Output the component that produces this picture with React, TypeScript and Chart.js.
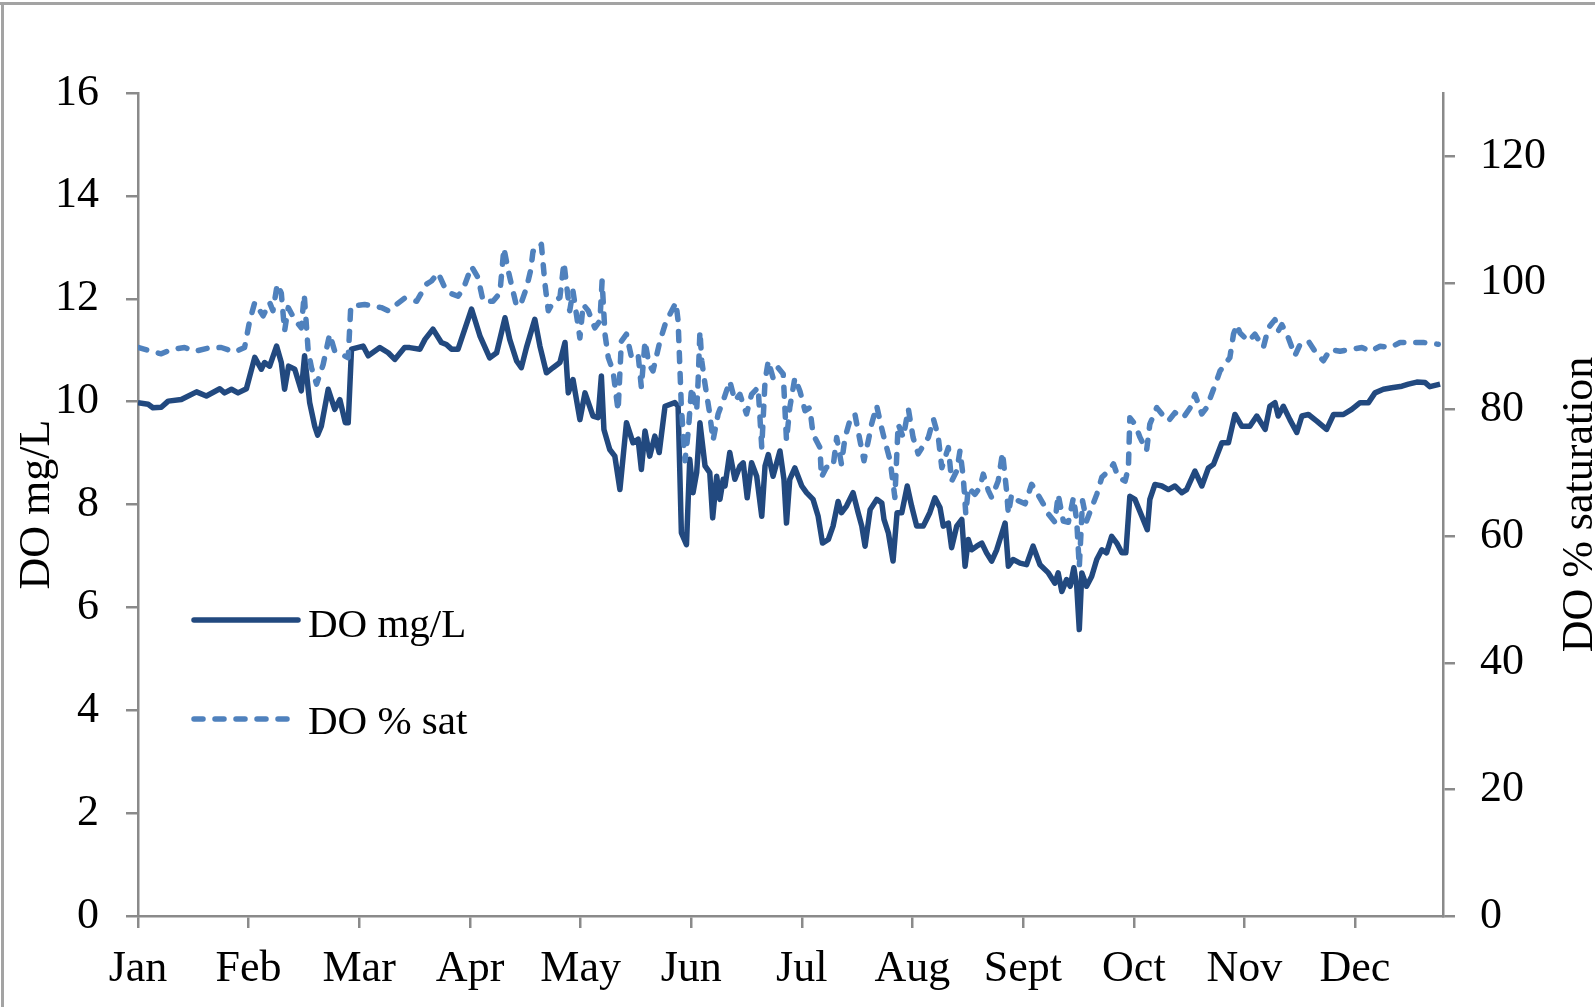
import React, { useEffect, useRef } from "react";
import { Chart, registerables, type ChartConfiguration, type Plugin } from "chart.js";

Chart.register(...registerables);

// ---------------------------------------------------------------
// DATA (day of year -> value)
// ---------------------------------------------------------------

const monthLabels = ["Jan", "Feb", "Mar", "Apr", "May", "Jun", "Jul", "Aug", "Sept", "Oct", "Nov", "Dec"];
const monthStarts = [0, 30.4, 60.8, 91.3, 121.7, 152.1, 182.5, 212.9, 243.3, 273.8, 304.2, 334.6];

const mgDays = [
  0, 2.8, 4.1, 6.4, 8.3, 11.9, 16.1, 18.8, 22.5, 23.8,
  25.7, 27.5, 29.8, 32.1, 33.9, 34.8, 36.2, 38.1, 39.4, 40.3,
  41.4, 43.1, 44.9, 45.8, 47.2, 48.6, 49.4, 50.4, 52.3, 54.1,
  55.5, 57.0, 57.8, 58.7, 61.9, 63.3, 66.5, 68.8, 70.6, 73.3,
  74.7, 77.5, 78.9, 81.1, 83.4, 84.8, 86.2, 88.0, 91.7, 94.0,
  96.7, 98.6, 100.9, 102.2, 104.1, 105.4, 106.8, 109.1, 110.5, 112.3,
  114.1, 116.0, 117.4, 118.3, 119.6, 121.5, 122.9, 125.1, 126.5, 127.4,
  128.1, 129.7, 131.1, 132.5, 134.3, 136.1, 137.5, 138.4, 139.4, 140.7,
  142.1, 143.3, 144.9, 147.6, 148.5, 149.4, 150.8, 151.7, 152.6, 153.6,
  154.5, 155.9, 157.2, 158.0, 159.1, 160.0, 160.9, 161.4, 162.7, 164.1,
  165.5, 166.4, 167.5, 168.7, 170.1, 171.5, 172.4, 173.3, 174.6, 176.5,
  177.6, 178.3, 179.2, 180.6, 182.5, 183.8, 185.6, 187.0, 188.2, 189.8,
  191.1, 192.5, 193.4, 194.8, 196.6, 198.0, 199.0, 199.9, 201.3, 203.1,
  204.5, 205.1, 206.3, 207.6, 208.7, 210.0, 211.5, 212.7, 214.1, 215.9,
  216.8, 217.7, 219.1, 220.5, 221.4, 222.8, 223.7, 225.1, 226.5, 227.4,
  228.3, 229.2, 230.6, 232.0, 233.3, 234.7, 236.1, 238.4, 239.3, 240.6,
  242.5, 244.3, 246.1, 248.0, 250.3, 252.1, 253.0, 254.0, 255.3, 256.3,
  257.3, 258.1, 258.8, 259.5, 260.8, 262.2, 263.6, 265.0, 266.3, 267.7,
  269.1, 270.5, 271.6, 272.7, 274.1, 276.0, 277.5, 278.2, 279.6, 281.5,
  283.3, 285.1, 287.0, 288.3, 290.6, 292.5, 294.3, 295.7, 298.0, 299.8,
  301.6, 303.5, 305.7, 307.6, 309.9, 311.2, 312.6, 313.5, 314.9, 316.7,
  318.6, 320.0, 321.8, 324.1, 326.8, 328.7, 331.4, 333.7, 336.0, 338.3,
  340.1, 342.4, 344.7, 347.5, 349.3, 351.6, 353.9, 355.2, 358.0,
];

const mgValues = [
  9.98, 9.95, 9.88, 9.89, 10.01, 10.04, 10.19, 10.11, 10.25, 10.17,
  10.24, 10.17, 10.25, 10.86, 10.63, 10.76, 10.69, 11.08, 10.76, 10.24,
  10.69, 10.63, 10.21, 10.89, 9.98, 9.52, 9.35, 9.52, 10.24, 9.85,
  10.04, 9.59, 9.59, 11.02, 11.08, 10.89, 11.05, 10.95, 10.82, 11.05,
  11.05, 11.02, 11.21, 11.41, 11.15, 11.11, 11.02, 11.02, 11.8, 11.28,
  10.85, 10.95, 11.63, 11.21, 10.79, 10.66, 11.05, 11.6, 11.08, 10.56,
  10.66, 10.76, 11.15, 10.17, 10.43, 9.65, 10.17, 9.72, 9.69, 10.5,
  9.46, 9.07, 8.94, 8.29, 9.59, 9.2, 9.27, 8.68, 9.43, 8.94,
  9.33, 9.01, 9.91, 9.98, 9.91, 7.45, 7.22, 8.88, 8.23, 8.62,
  9.59, 8.75, 8.62, 7.74, 8.55, 8.1, 8.49, 8.36, 9.01, 8.49,
  8.75, 8.81, 8.13, 8.81, 8.55, 7.77, 8.75, 8.97, 8.55, 9.04,
  8.49, 7.64, 8.49, 8.71, 8.36, 8.23, 8.1, 7.77, 7.25, 7.32,
  7.58, 8.06, 7.84, 7.97, 8.23, 7.84, 7.58, 7.19, 7.9, 8.1,
  8.03, 7.71, 7.45, 6.9, 7.84, 7.84, 8.36, 7.97, 7.58, 7.58,
  7.71, 7.84, 8.13, 7.94, 7.58, 7.64, 7.16, 7.58, 7.71, 6.8,
  7.32, 7.12, 7.19, 7.25, 7.06, 6.9, 7.12, 7.64, 6.8, 6.93,
  6.86, 6.83, 7.19, 6.83, 6.67, 6.47, 6.67, 6.31, 6.54, 6.41,
  6.77, 6.41, 5.57, 6.67, 6.41, 6.6, 6.93, 7.12, 7.06, 7.38,
  7.25, 7.06, 7.06, 8.16, 8.1, 7.77, 7.51, 8.1, 8.39, 8.36,
  8.29, 8.36, 8.23, 8.29, 8.65, 8.36, 8.71, 8.78, 9.2, 9.2,
  9.75, 9.52, 9.52, 9.72, 9.46, 9.91, 9.98, 9.72, 9.91, 9.65,
  9.4, 9.72, 9.75, 9.62, 9.46, 9.75, 9.75, 9.85, 9.98, 9.98,
  10.17, 10.24, 10.27, 10.3, 10.34, 10.38, 10.37, 10.29, 10.34,
];

const satDays = [
  0, 3.7, 6.4, 9.2, 12.8, 15.6, 19.3, 22.9, 26.6, 29.3,
  30.7, 32.1, 34.4, 36.2, 37.1, 38.3, 39.4, 40.3, 41.3, 43.1,
  44.9, 45.7, 46.8, 47.7, 49.1, 50.9, 52.7, 54.1, 55.9, 57.8,
  58.5, 62.3, 66.9, 68.8, 73.3, 76.6, 79.3, 80.7, 82.5, 84.4,
  85.7, 88.0, 89.4, 91.7, 93.5, 94.9, 97.6, 99.5, 100.6, 101.8,
  103.1, 104.1, 105.4, 106.8, 108.0, 108.6, 110.0, 110.9, 111.9, 112.8,
  114.1, 116.0, 117.1, 117.8, 118.7, 119.6, 121.5, 122.4, 123.8, 125.6,
  127.0, 127.6, 128.4, 129.3, 130.6, 132.0, 132.9, 134.3, 135.7, 137.5,
  138.4, 139.4, 140.5, 141.6, 143.5, 144.9, 146.2, 147.9, 148.5, 149.4,
  150.4, 151.3, 152.2, 153.6, 154.0, 154.5, 155.0, 155.9, 157.2, 158.1,
  159.5, 160.9, 162.7, 164.1, 165.5, 167.3, 168.7, 170.5, 171.5, 172.4,
  173.3, 174.6, 176.0, 177.4, 178.3, 179.2, 180.6, 182.0, 183.4, 184.7,
  185.6, 187.5, 187.9, 189.3, 191.1, 192.1, 193.4, 194.4, 195.7, 197.1,
  198.5, 199.6, 200.8, 201.7, 203.1, 204.2, 205.1, 206.8, 208.1, 209.0,
  210.4, 211.8, 213.1, 214.5, 217.3, 218.7, 220.0, 221.0, 222.8, 223.7,
  225.1, 226.0, 226.9, 227.6, 228.3, 230.1, 231.5, 232.4, 233.8, 234.7,
  236.5, 237.7, 238.8, 239.3, 240.2, 242.0, 243.9, 245.7, 247.1, 248.9,
  250.3, 252.1, 253.0, 254.4, 255.8, 257.2, 258.1, 258.8, 259.7, 260.8,
  262.2, 263.6, 265.0, 266.8, 268.2, 269.5, 271.4, 272.3, 272.7, 274.1,
  275.5, 277.3, 278.2, 280.1, 281.5, 283.3, 285.1, 287.4, 289.3, 290.6,
  292.5, 293.8, 295.7, 297.5, 300.2, 301.2, 302.1, 303.0, 305.3, 307.1,
  309.4, 310.8, 312.6, 313.5, 314.5, 316.3, 318.1, 319.5, 321.8, 323.6,
  325.9, 327.8, 330.5, 333.3, 336.5, 338.8, 341.5, 344.3, 347.0, 349.8,
  353.4, 357.5,
];

const satValues = [
  89.8, 89.2, 88.8, 89.5, 89.8, 89.2, 89.7, 89.8, 89.1, 89.8,
  94.0, 96.9, 94.8, 96.9, 95.6, 99.8, 98.4, 92.4, 96.1, 94.2,
  92.9, 98.2, 89.2, 86.6, 84.0, 87.1, 91.9, 89.2, 88.7, 88.2,
  96.3, 96.6, 96.1, 95.6, 97.6, 97.1, 99.8, 100.3, 101.6, 99.2,
  98.4, 97.9, 99.0, 102.6, 100.8, 97.1, 97.1, 98.4, 105.5, 101.9,
  98.7, 96.3, 96.9, 99.2, 102.1, 105.0, 105.0, 106.1, 99.8, 95.6,
  96.9, 97.7, 103.2, 99.8, 95.6, 98.7, 91.3, 96.6, 95.6, 92.9,
  94.0, 100.3, 91.9, 88.2, 86.1, 79.8, 90.8, 91.9, 88.2, 88.7,
  83.5, 90.8, 87.1, 86.1, 90.8, 93.4, 95.0, 96.9, 94.0, 80.3,
  71.9, 76.6, 83.5, 79.8, 84.5, 92.4, 87.7, 84.0, 79.3, 75.1,
  79.3, 81.4, 84.5, 81.4, 82.4, 79.3, 82.4, 83.5, 74.0, 84.5,
  87.7, 85.0, 86.6, 85.6, 75.1, 80.3, 85.0, 82.9, 79.8, 80.3,
  76.1, 74.0, 69.3, 70.9, 70.9, 75.6, 71.4, 75.6, 78.2, 79.3,
  75.1, 71.9, 75.1, 77.7, 80.6, 77.7, 75.6, 71.9, 66.1, 77.7,
  75.6, 80.1, 75.6, 73.0, 75.6, 78.5, 75.8, 70.8, 74.0, 68.7,
  70.3, 73.5, 69.3, 63.5, 67.7, 66.6, 67.7, 69.8, 67.2, 66.1,
  68.7, 73.2, 67.2, 63.5, 66.6, 65.6, 65.1, 68.2, 66.9, 65.1,
  63.5, 62.2, 66.6, 62.4, 62.2, 66.1, 62.4, 55.1, 65.6, 62.4,
  64.5, 66.6, 69.3, 70.3, 71.4, 69.3, 68.7, 70.8, 78.7, 77.7,
  75.6, 73.5, 77.7, 80.3, 79.3, 78.2, 79.5, 78.7, 80.3, 82.4,
  79.3, 80.3, 83.2, 86.1, 88.2, 91.9, 93.4, 92.1, 90.8, 91.9,
  89.8, 92.9, 94.2, 92.4, 93.4, 91.3, 88.5, 90.3, 90.8, 89.2,
  87.7, 89.5, 89.2, 89.5, 89.8, 89.2, 90.0, 89.8, 90.6, 90.6,
  90.6, 90.3,
];

// ---------------------------------------------------------------
// STYLE
// ---------------------------------------------------------------

const FONT = "'Liberation Serif', 'Times New Roman', serif";
const AXIS_COLOR = "#8a8a8a";
const SOLID_COLOR = "#22497f";
const DASH_COLOR = "#4f81bd";
const LINE_W = 5.5;
const DASH = [9, 12];

// axis titles + in-plot legend, drawn straight onto the canvas
const titlesAndLegend: Plugin = {
  id: "titlesAndLegend",
  afterDraw(chart) {
    const ctx = chart.ctx;
    const mid = (chart.chartArea.top + chart.chartArea.bottom) / 2;
    ctx.save();
    ctx.fillStyle = "#000";
    ctx.textAlign = "center";
    ctx.textBaseline = "alphabetic";
    ctx.font = `44px ${FONT}`;

    ctx.save();
    ctx.translate(49, mid);
    ctx.rotate(-Math.PI / 2);
    ctx.fillText("DO mg/L", 0, 0);
    ctx.restore();

    ctx.save();
    ctx.translate(1592, mid);
    ctx.rotate(-Math.PI / 2);
    ctx.fillText("DO % saturation", 0, 0);
    ctx.restore();

    // legend
    ctx.lineWidth = LINE_W;
    ctx.lineCap = "round";
    ctx.strokeStyle = SOLID_COLOR;
    ctx.beginPath();
    ctx.moveTo(194, 620);
    ctx.lineTo(298, 620);
    ctx.stroke();

    ctx.strokeStyle = DASH_COLOR;
    ctx.setLineDash(DASH);
    ctx.beginPath();
    ctx.moveTo(194, 719);
    ctx.lineTo(298, 719);
    ctx.stroke();
    ctx.setLineDash([]);

    ctx.font = `41px ${FONT}`;
    ctx.textAlign = "left";
    ctx.fillText("DO mg/L", 308, 637);
    ctx.fillText("DO % sat", 308, 734);
    ctx.restore();
  },
};

const tickFont = { family: FONT, size: 44 };

const App: React.FC = () => {
  const canvasRef = useRef<HTMLCanvasElement | null>(null);

  useEffect(() => {
    if (!canvasRef.current) return;
    const ctx = canvasRef.current.getContext("2d");
    if (!ctx) return;

    const config: ChartConfiguration = {
      type: "line",
      data: {
        datasets: [
          {
            label: "DO % sat",
            data: satDays.map((d, i) => ({ x: d, y: satValues[i] })),
            yAxisID: "y1",
            borderColor: DASH_COLOR,
            borderWidth: LINE_W,
            borderDash: DASH,
            borderCapStyle: "round",
            borderJoinStyle: "round",
            pointRadius: 0,
            tension: 0,
          },
          {
            label: "DO mg/L",
            data: mgDays.map((d, i) => ({ x: d, y: mgValues[i] })),
            yAxisID: "y",
            borderColor: SOLID_COLOR,
            borderWidth: LINE_W,
            borderJoinStyle: "round",
            pointRadius: 0,
            tension: 0,
          },
        ],
      },
      options: {
        responsive: false,
        animation: false,
        layout: { padding: { top: 93, left: 0, right: 0, bottom: 0 } },
        plugins: {
          legend: { display: false },
          tooltip: { enabled: false },
        },
        scales: {
          x: {
            type: "linear",
            min: 0,
            max: 358.8,
            afterBuildTicks: (scale: any) => {
              scale.ticks = monthStarts.map((v) => ({ value: v }));
            },
            afterFit: (scale: any) => {
              scale.height = 91;
            },
            ticks: {
              autoSkip: false,
              maxRotation: 0,
              padding: 15,
              color: "#000",
              font: tickFont,
              callback: (_v: any, i: number) => monthLabels[i],
            },
            grid: { drawOnChartArea: false, tickLength: 12, color: AXIS_COLOR, lineWidth: 2.5 },
            border: { display: true, color: AXIS_COLOR, width: 2.5 },
          },
          y: {
            type: "linear",
            position: "left",
            min: 0,
            max: 16,
            afterFit: (scale: any) => {
              scale.width = 138;
            },
            ticks: { stepSize: 2, padding: 27, color: "#000", font: tickFont },
            grid: { drawOnChartArea: false, tickLength: 12, color: AXIS_COLOR, lineWidth: 2.5 },
            border: { display: true, color: AXIS_COLOR, width: 2.5 },
          },
          y1: {
            type: "linear",
            position: "right",
            min: 0,
            max: 130,
            afterFit: (scale: any) => {
              scale.width = 152;
            },
            ticks: { stepSize: 20, includeBounds: false, padding: 25, color: "#000", font: tickFont },
            grid: { drawOnChartArea: false, tickLength: 12, color: AXIS_COLOR, lineWidth: 2.5 },
            border: { display: true, color: AXIS_COLOR, width: 2.5 },
          },
        },
      },
      plugins: [titlesAndLegend],
    };

    const chart = new Chart(ctx, config);
    return () => chart.destroy();
  }, []);

  return (
    <div style={styles.page}>
      <canvas ref={canvasRef} width={1595} height={1007} style={{ display: "block" }} />
      <div style={styles.frameTop} />
      <div style={styles.frameLeft} />
    </div>
  );
};

const styles = {
  page: { position: "absolute", left: 0, top: 0, width: 1595, height: 1007, background: "#fff", overflow: "hidden" } as React.CSSProperties,
  frameTop: { position: "absolute", left: 0, top: 2, width: 1595, height: 3, background: "#a3a3a3" } as React.CSSProperties,
  frameLeft: { position: "absolute", left: 1, top: 2, width: 3, height: 1005, background: "#a3a3a3" } as React.CSSProperties,
};

export default App;
